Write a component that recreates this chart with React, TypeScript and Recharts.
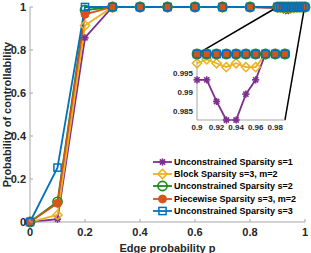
import { Legend, Line, LineChart, ReferenceLine, XAxis, YAxis } from "recharts";

const edgeP = [0, 0.1, 0.2, 0.3, 0.4, 0.5, 0.6, 0.7, 0.8, 0.9, 0.91, 0.92, 0.93, 0.94, 0.95, 0.96, 0.97, 0.98, 0.99, 1];
const uncS1 = [0, 0.013, 0.857, 1, 1, 1, 1, 1, 1, 0.9933, 0.9933, 0.9877, 0.9829, 0.9829, 0.9896, 0.9933, 1, 1, 1, 1];
const blockS3 = [0, 0.033, 0.914, 1, 1, 1, 1, 1, 1, 0.9976, 0.9986, 0.9976, 0.9966, 0.9976, 0.9966, 0.9966, 1, 1, 1, 1];
const uncS2 = [0, 0.094, 0.986, 1, 1, 1, 1, 1, 1, 1, 1, 1, 1, 1, 1, 1, 1, 1, 1, 1];
const pieceS3 = [0, 0.087, 0.966, 1, 1, 1, 1, 1, 1, 1, 1, 1, 1, 1, 1, 1, 1, 1, 1, 1];
const uncS3 = [0, 0.253, 1, 1, 1, 1, 1, 1, 1, 1, 1, 1, 1, 1, 1, 1, 1, 1, 1, 1];

const xTicks = [0, 0.2, 0.4, 0.6, 0.8, 1];
const yTicks = [0, 0.2, 0.4, 0.6, 0.8, 1];
const insetXTicks = [0.9, 0.92, 0.94, 0.96, 0.98];
const insetYTicks = [0.985, 0.99, 0.995];
const insetXDomain = [0.9, 0.99];
const insetYDomain = [0.9829, 1];

const seriesNames = [
  "Unconstrained Sparsity s=1",
  "Block Sparsity s=3, m=2",
  "Unconstrained Sparsity s=2",
  "Piecewise Sparsity s=3, m=2",
  "Unconstrained Sparsity s=3",
];

const rows = edgeP.map((p, i) => ({
  p,
  s1: uncS1[i],
  blk: blockS3[i],
  s2: uncS2[i],
  pw: pieceS3[i],
  s3: uncS3[i],
}));
const insetRows = rows.filter((r) => r.p >= insetXDomain[0] - 1e-9 && r.p <= insetXDomain[1] + 1e-9);

const SERIES = [
  { key: "s1", color: "#7E2F8E", marker: "star" },
  { key: "blk", color: "#EDB120", marker: "diamond" },
  { key: "s2", color: "#1a8a1a", marker: "circle" },
  { key: "pw", color: "#D95319", marker: "dot" },
  { key: "s3", color: "#0072BD", marker: "square" },
];

// plot box of main axes (px)
const W = 311;
const H = 253;
const PL = 30;
const PR = 305;
const PT = 7;
const PB = 222;
// inset placement in main data units
const INSET = { x0: 0.607, x1: 0.927, yTop: 0.781, yBottom: 0.474 };

const AX = "#a6a6a6";
const TXT = "#262626";
const FONT = "'Liberation Sans', Arial, sans-serif";

function marker(kind: string, cx: number, cy: number, color: string, key?: any) {
  if (kind === "star") {
    const r = 3.6;
    const d = r * 0.72;
    return (
      <g key={key} stroke={color} strokeWidth={1.6}>
        <line x1={cx - r} y1={cy} x2={cx + r} y2={cy} />
        <line x1={cx} y1={cy - r} x2={cx} y2={cy + r} />
        <line x1={cx - d} y1={cy - d} x2={cx + d} y2={cy + d} />
        <line x1={cx - d} y1={cy + d} x2={cx + d} y2={cy - d} />
      </g>
    );
  }
  if (kind === "diamond") {
    const r = 4.6;
    return (
      <polygon
        key={key}
        points={`${cx},${cy - r} ${cx + r},${cy} ${cx},${cy + r} ${cx - r},${cy}`}
        fill="none"
        stroke={color}
        strokeWidth={1.5}
      />
    );
  }
  if (kind === "circle") {
    return <circle key={key} cx={cx} cy={cy} r={4.6} fill="none" stroke={color} strokeWidth={1.6} />;
  }
  if (kind === "dot") {
    return <circle key={key} cx={cx} cy={cy} r={4} fill={color} stroke={color} strokeWidth={1} />;
  }
  return <rect key={key} x={cx - 3.6} y={cy - 3.6} width={7.2} height={7.2} fill="none" stroke={color} strokeWidth={1.5} />;
}

const dotFor = (kind: string, color: string) => (props: any) =>
  props.cx == null || props.cy == null ? <g key={props.index} /> : marker(kind, props.cx, props.cy, color, props.index);

const fmt = (v: number) => String(+v.toFixed(3));

// ticks are drawn inward (MATLAB style)
const BottomTick = ({ x, y, payload, size = 11, gap = 10, len = 3 }: any) => (
  <g>
    <line x1={x} x2={x} y1={y - gap} y2={y - gap - len} stroke={AX} />
    <text x={x} y={y} textAnchor="middle" dominantBaseline="central" fontSize={size} fontWeight="bold" fill={TXT} fontFamily={FONT}>
      {fmt(payload.value)}
    </text>
  </g>
);
const LeftTick = ({ x, y, payload, size = 11, gap = 4, len = 3 }: any) => (
  <g>
    <line x1={x + gap} x2={x + gap + len} y1={y} y2={y} stroke={AX} />
    <text x={x} y={y} textAnchor="end" dominantBaseline="central" fontSize={size} fontWeight="bold" fill={TXT} fontFamily={FONT}>
      {fmt(payload.value)}
    </text>
  </g>
);
const TopTick = ({ x, y }: any) => <line x1={x} x2={x} y1={y} y2={y + 3} stroke={AX} />;
const RightTick = ({ x, y }: any) => <line x1={x - 3} x2={x} y1={y} y2={y} stroke={AX} />;

const YTitle = () => {
  const cx = 6.5;
  const cy = (PT + PB) / 2;
  return (
    <text x={cx} y={cy} transform={`rotate(-90, ${cx}, ${cy})`} textAnchor="middle" dominantBaseline="central"
      fontSize={11} fontWeight="bold" fill={TXT} fontFamily={FONT}>
      Probability of controllability
    </text>
  );
};

const renderLegend = (props: any) => {
  const order = (k: any) => SERIES.findIndex((q) => q.key === k);
  const items = [...(props.payload || [])].sort((a: any, b: any) => order(a.dataKey) - order(b.dataKey));
  return (
    <div style={{ fontFamily: FONT, fontSize: 9, fontWeight: "bold", color: "#000" }}>
      {items.map((e: any, i: number) => {
        const s = SERIES.find((q) => q.key === e.dataKey) || SERIES[i];
        return (
          <div key={i} style={{ display: "flex", alignItems: "center", height: 12.3, whiteSpace: "nowrap" }}>
            <svg width={23} height={12} style={{ display: "block" }}>
              <line x1={2} x2={21} y1={6} y2={6} stroke={s.color} strokeWidth={1.8} />
              {marker(s.marker, 11.5, 6, s.color)}
            </svg>
            <span>{e.value}</span>
          </div>
        );
      })}
    </div>
  );
};

const sx = (v: number) => PL + v * (PR - PL);
const sy = (v: number) => PB - v * (PB - PT);

export default function App() {
  const insetLeft = sx(INSET.x0);
  const insetRight = sx(INSET.x1);
  const insetTop = sy(INSET.yTop);
  const insetBottom = sy(INSET.yBottom);
  const iYW = 37;
  const iXH = 15;
  const boxL = insetLeft - iYW;
  const boxT = insetTop - 6;
  const boxW = insetRight + 5 - boxL;
  const boxH = insetBottom + iXH - boxT;

  return (
    <div style={{ position: "fixed", left: 0, top: 0, width: W, height: H, background: "#fff", fontFamily: FONT }}>
      <LineChart width={W} height={H} data={rows} margin={{ top: PT, right: W - PR, bottom: 0, left: 0 }}>
        <XAxis xAxisId="b" dataKey="p" type="number" domain={[0, 1]} ticks={xTicks} height={H - PB}
          axisLine={{ stroke: AX }} tickLine={false} tickSize={0} tickMargin={10} tick={<BottomTick />} interval={0}
          label={{ value: "Edge probability p", position: "insideBottom", offset: 1, fontSize: 11, fontWeight: "bold", fill: TXT }} />
        <XAxis xAxisId="t" orientation="top" dataKey="p" type="number" domain={[0, 1]} ticks={xTicks} height={0}
          axisLine={{ stroke: AX }} tickLine={false} tickSize={0} tickMargin={0} tick={<TopTick />} interval={0} />
        <YAxis yAxisId="l" type="number" domain={[0, 1]} ticks={yTicks} width={PL}
          axisLine={{ stroke: AX }} tickLine={false} tickSize={0} tickMargin={4} tick={<LeftTick />} interval={0}
          label={{ content: () => <YTitle /> }} />
        <YAxis yAxisId="r" orientation="right" type="number" domain={[0, 1]} ticks={yTicks} width={0}
          axisLine={{ stroke: AX }} tickLine={false} tickSize={0} tickMargin={0} tick={<RightTick />} interval={0} />
        {SERIES.map((s, i) => (
          <Line key={s.key} xAxisId="b" yAxisId="l" dataKey={s.key} name={seriesNames[i]} stroke={s.color}
            strokeWidth={1.8} dot={dotFor(s.marker, s.color)} activeDot={false} isAnimationActive={false} />
        ))}
        <ReferenceLine xAxisId="b" yAxisId="l" segment={[{ x: 0.9, y: 1 }, { x: INSET.x0, y: INSET.yTop }]}
          stroke="#000" strokeWidth={1.5} ifOverflow="visible" />
        <ReferenceLine xAxisId="b" yAxisId="l" segment={[{ x: 1, y: 1.012 }, { x: INSET.x1, y: INSET.yBottom }]}
          stroke="#000" strokeWidth={1.5} ifOverflow="visible" />
        <Legend layout="vertical" align="center" verticalAlign="middle" content={renderLegend} itemSorter={null as any}
          wrapperStyle={{ left: 151, top: 155.5, width: 150, height: 62 }} />
      </LineChart>

      <div style={{ position: "absolute", left: boxL, top: boxT }}>
        <LineChart width={boxW} height={boxH} data={insetRows} margin={{ top: 6, right: 5, bottom: 0, left: 0 }}>
          <XAxis dataKey="p" type="number" domain={insetXDomain} ticks={insetXTicks} height={iXH}
            axisLine={{ stroke: AX }} tickLine={false} tickSize={0} tickMargin={7}
            tick={<BottomTick size={8} gap={7} len={0} />} interval={0} />
          <YAxis type="number" domain={insetYDomain} ticks={insetYTicks} width={iYW}
            axisLine={{ stroke: AX }} tickLine={false} tickSize={0} tickMargin={4}
            tick={<LeftTick size={8} gap={4} len={0} />} interval={0} />
          {SERIES.map((s, i) => (
            <Line key={s.key} dataKey={s.key} name={seriesNames[i]} stroke={s.color} strokeWidth={1.8}
              dot={dotFor(s.marker, s.color)} activeDot={false} isAnimationActive={false} />
          ))}
        </LineChart>
      </div>
    </div>
  );
}
